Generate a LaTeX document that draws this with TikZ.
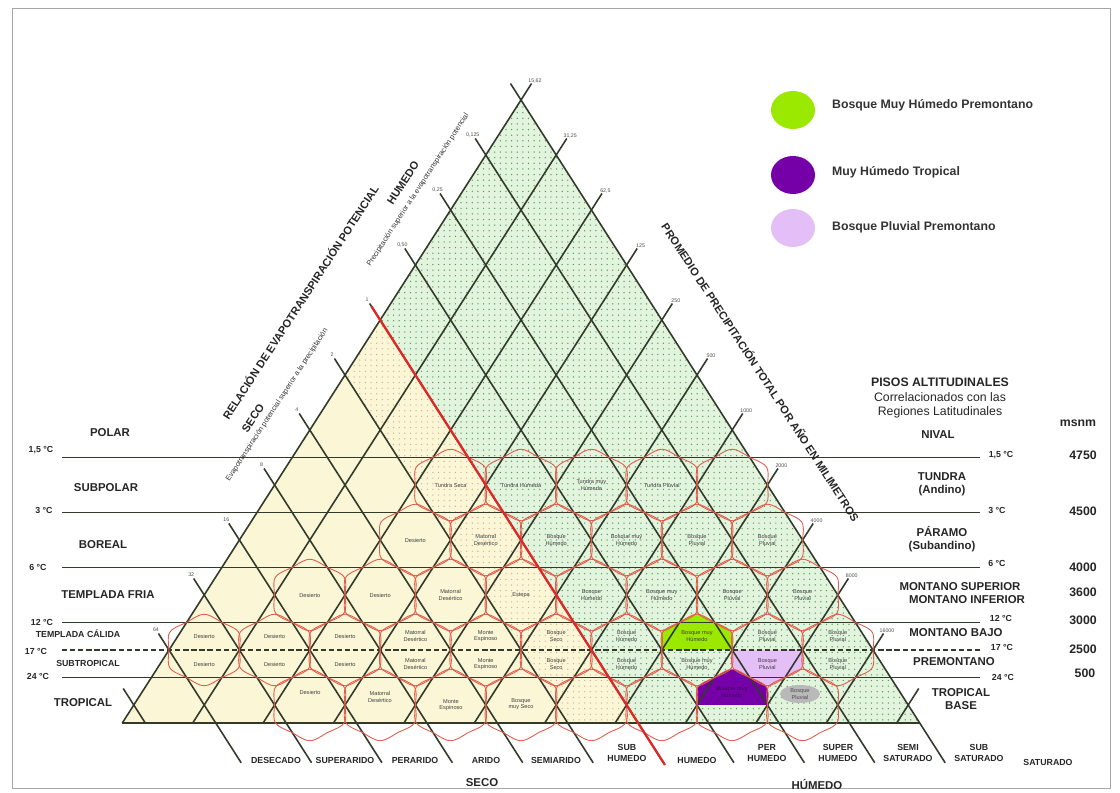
\documentclass[tikz,border=0pt]{standalone}
\usepackage{fontspec}
\setmainfont{Liberation Sans}
\usetikzlibrary{patterns.meta,shapes.geometric}

\definecolor{gridcol}{RGB}{50,58,42}
\definecolor{hexred}{RGB}{226,92,76}
\definecolor{linered}{RGB}{222,40,40}
\definecolor{creamcol}{RGB}{250,246,214}
\definecolor{greencol}{RGB}{226,243,222}
\definecolor{dotgreen}{RGB}{88,158,88}
\definecolor{dottan}{RGB}{220,165,140}
\definecolor{limecol}{RGB}{155,232,0}
\definecolor{purplecol}{RGB}{118,0,168}
\definecolor{lilaccol}{RGB}{228,190,246}

\tikzstyle{gridline} = [draw=gridcol, line width=0.9pt]
\tikzstyle{hexline} = [draw=hexred, line width=0.5pt]
\tikzstyle{zonelbl} = [font=\fontsize{3.2}{3.7}\selectfont, text=black!75, align=center, inner sep=0pt]
\tikzstyle{regionlbl} = [font=\fontsize{6.5}{7.5}\selectfont\bfseries, text=black!85, align=center]
\tikzstyle{smallregion} = [font=\fontsize{5}{6}\selectfont\bfseries, text=black!85]
\tikzstyle{templbl} = [font=\fontsize{5}{6}\selectfont\bfseries, text=black!85]
\tikzstyle{altlbl} = [font=\fontsize{7}{8}\selectfont\bfseries, text=black!85]
\tikzstyle{ticklbl} = [font=\fontsize{3}{3.5}\selectfont, text=black!70, inner sep=0pt]
\tikzstyle{humlbl} = [font=\fontsize{5}{5.8}\selectfont\bfseries, text=black!85, align=center, inner sep=0pt]
\tikzstyle{sidetitle} = [font=\fontsize{6.3}{7}\selectfont\bfseries, text=black!85, inner sep=0pt]
\tikzstyle{sidesmall} = [font=\fontsize{4.2}{5}\selectfont, text=black!80, inner sep=0pt]
\tikzstyle{legendtxt} = [font=\fontsize{7}{8}\selectfont\bfseries, text=black!80, anchor=west]
\tikzstyle{legenddot} = [ellipse, minimum width=0.88cm, minimum height=0.76cm, inner sep=0pt]

% one life zone: hexagon with its sides bulging into the transition triangles
\newcommand{\redhex}[2]{%
  \pgfmathsetmacro{\hcx}{521+35.2*(#2)}%
  \pgfmathsetmacro{\hcy}{100+55*(#1)}%
  \draw[hexline] (\hcx+35.2,\hcy)
    .. controls (\hcx+37,\hcy+19.3) .. (\hcx+17.6,\hcy+27.5)
    .. controls (\hcx,\hcy+38.5) .. (\hcx-17.6,\hcy+27.5)
    .. controls (\hcx-37,\hcy+19.3) .. (\hcx-35.2,\hcy)
    .. controls (\hcx-37,\hcy-19.3) .. (\hcx-17.6,\hcy-27.5)
    .. controls (\hcx,\hcy-38.5) .. (\hcx+17.6,\hcy-27.5)
    .. controls (\hcx+37,\hcy-19.3) .. (\hcx+35.2,\hcy);
}
\newcommand{\hexupper}[3]{%
  \pgfmathsetmacro{\hcx}{521+35.2*(#2)}%
  \pgfmathsetmacro{\hcy}{100+55*(#1)}%
  \fill[#3] (\hcx-35.2,\hcy)
    .. controls (\hcx-37,\hcy-19.3) .. (\hcx-17.6,\hcy-27.5)
    .. controls (\hcx,\hcy-38.5) .. (\hcx+17.6,\hcy-27.5)
    .. controls (\hcx+37,\hcy-19.3) .. (\hcx+35.2,\hcy) -- cycle;
}
\newcommand{\hexlower}[3]{%
  \pgfmathsetmacro{\hcx}{521+35.2*(#2)}%
  \pgfmathsetmacro{\hcy}{100+55*(#1)}%
  \fill[#3] (\hcx-35.2,\hcy)
    .. controls (\hcx-37,\hcy+19.3) .. (\hcx-17.6,\hcy+27.5)
    .. controls (\hcx,\hcy+38.5) .. (\hcx+17.6,\hcy+27.5)
    .. controls (\hcx+37,\hcy+19.3) .. (\hcx+35.2,\hcy) -- cycle;
}

\begin{document}
\begin{tikzpicture}[x=0.02cm, y=-0.02cm]
  \useasboundingbox (0,0) rectangle (1120,793);
  \draw[gray!70, line width=0.5pt] (12,8) rectangle (1110,788);

  % Defining corners
  \coordinate (apex) at (521,100);
  \coordinate (bl) at (122.3,723);
  \coordinate (br) at (919.7,723);
  \coordinate (petone) at (380.2,320);
  \coordinate (pettwo) at (345,375);
  \coordinate (petonebase) at (638.1,723);
  \coordinate (pettwobase) at (567.7,723);
  \coordinate (redtop) at (371.4,306.3);
  \coordinate (redend) at (665,765);

  % Filling provinces
  \fill[creamcol] (apex) -- (bl) -- (br) -- cycle;
  \fill[pattern={Dots[radius=0.38pt,distance=3.2pt]}, pattern color=dottan] (pettwo) -- (petone) -- (petonebase) -- (pettwobase) -- cycle;
  \fill[greencol] (petone) -- (apex) -- (br) -- (petonebase) -- cycle;
  \fill[pattern={Dots[radius=0.42pt,distance=3.2pt]}, pattern color=dotgreen] (petone) -- (apex) -- (br) -- (petonebase) -- cycle;

  % Highlighted zones
  \hexupper{10}{5}{limecol}
  \hexlower{10}{7}{lilaccol}
  \hexupper{11}{6}{purplecol}

  % Drawing grid
  \foreach \j in {0,...,11} {
    \draw[gridline] ({521+35.2*(\j+0.3)},{100+55*(\j-0.3)}) -- ({521+35.2*(2*\j-11.327)},723);
  }
  \foreach \k in {0,...,10} {
    \draw[gridline] ({521-35.2*(\k+0.3)},{100+55*(\k-0.3)}) -- ({521+35.2*(12.05-2*\k)},{100+55*12.05});
  }
  \draw[gridline] ({521-35.2*11.3},{100+55*10.7}) -- ({521+35.2*(11.327-22)},723);
  \draw[gridline] (bl) -- (br);
  \foreach \r in {6.5,7.5,8.5,9.5,10.5} {
    \draw[gridline] (62,{100+55*\r}) -- (980,{100+55*\r});
  }
  \draw[gridline, dash pattern=on 3pt off 1.6pt] (62,650) -- (980,650);

  % Drawing life zones
  \foreach \m in {-2,0,...,6} {\redhex{7}{\m}}
  \foreach \m in {-3,-1,...,7} {\redhex{8}{\m}}
  \foreach \m in {-6,-4,...,8} {\redhex{9}{\m}}
  \foreach \m in {-9,-7,...,9} {\redhex{10}{\m}}
  \foreach \m in {-6,-4,...,8} {\redhex{11}{\m}}
  \draw[linered, line width=1.3pt] (redtop) -- (redend);

  % Zone names
  \foreach \m/\t [count=\i] in {-2/{Tundra Seca}, 0/{Tundra Húmeda}, 2/{Tundra muy\\Húmeda}, 4/{Tundra Pluvial}} {
    \node[zonelbl] (zsub\i) at ({521+35.2*\m},485) {\t};
  }
  \foreach \m/\t [count=\i] in {-3/Desierto, -1/{Matorral\\Desértico}, 1/{Bosque\\Húmedo}, 3/{Bosque muy\\Húmedo}, 5/{Bosque\\Pluvial}, 7/{Bosque\\Pluvial}} {
    \node[zonelbl] (zbor\i) at ({521+35.2*\m},540) {\t};
  }
  \foreach \m/\t [count=\i] in {-6/Desierto, -4/Desierto, -2/{Matorral\\Desértico}, 0/Estepa, 2/{Bosque\\Húmedo}, 4/{Bosque muy\\Húmedo}, 6/{Bosque\\Pluvial}, 8/{Bosque\\Pluvial}} {
    \node[zonelbl] (zfria\i) at ({521+35.2*\m},595) {\t};
  }
  \foreach \m/\ta/\tb [count=\i] in {-9/Desierto/Desierto, -7/Desierto/Desierto, -5/Desierto/Desierto, -3/{Matorral\\Desértico}/{Matorral\\Desértico}, -1/{Monte\\Espinoso}/{Monte\\Espinoso}, 1/{Bosque\\Seco}/{Bosque\\Seco}, 3/{Bosque\\Húmedo}/{Bosque\\Húmedo}, 5/{Bosque muy\\Húmedo}/{Bosque muy\\Húmedo}, 7/{Bosque\\Pluvial}/{Bosque\\Pluvial}, 9/{Bosque\\Pluvial}/{Bosque\\Pluvial}} {
    \node[zonelbl] (zcal\i) at ({521+35.2*\m},636) {\ta};
    \node[zonelbl] (zstr\i) at ({521+35.2*\m},664) {\tb};
  }
  \node[zonelbl] (ztrop1) at (310,692) {Desierto};
  \node[zonelbl] (ztrop2) at (380,697) {Matorral\\Desértico};
  \node[zonelbl] (ztrop3) at (451,705) {Monte\\Espinoso};
  \node[zonelbl] (ztrop4) at (521,704) {Bosque\\muy Seco};
  \node[zonelbl, text=purplecol!55!black] (ztrop5) at (732,692) {Bosque muy\\Húmedo};
  \node[ellipse, fill=gray!55, minimum width=0.8cm, minimum height=0.36cm, zonelbl, text=black!70] (ztrop6) at (800,694) {Bosque\\Pluvial};

  % Scale values
  \foreach \k/\v in {1/{0,125}, 2/{0,25}, 3/{0,50}, 4/1, 5/2, 6/4, 7/8, 8/16, 9/32, 10/64} {
    \node[ticklbl] (pet\k) at ({521-35.2*\k-13},{100+55*\k-20}) {\v};
  }
  \foreach \k/\v in {0/{15,62}, 1/{31,25}, 2/{62,5}, 3/125, 4/250, 5/500, 6/1000, 7/2000, 8/4000, 9/8000, 10/16000} {
    \node[ticklbl] (pp\k) at ({521+35.2*\k+14},{100+55*\k-19}) {\v};
  }

  % Side titles
  \node[sidetitle, rotate=57] (pettitle) at (300,302) {RELACIÓN DE EVAPOTRANSPIRACIÓN POTENCIAL};
  \node[sidetitle, rotate=57] (secoside) at (253,418) {SECO};
  \node[sidesmall, rotate=57] (secotxt) at (277,405) {Evapotranspiración potencial superior a la precipitación};
  \node[sidetitle, rotate=57] (humside) at (403,183) {HUMEDO};
  \node[sidesmall, rotate=57] (humtxt) at (418,190) {Precipitación superior a la evapotranspiración potencial};
  \node[sidetitle, rotate=-57] (pptitle) at (761,372) {PROMEDIO DE PRECIPITACIÓN TOTAL POR AÑO EN MILIMETROS};

  % Latitudinal regions
  \node[regionlbl] (regpolar) at (110,433) {POLAR};
  \node[templbl] (tpolar) at (41,450) {1,5 °C};
  \node[regionlbl] (regsubpolar) at (106,488) {SUBPOLAR};
  \node[templbl] (tsubpolar) at (44,510) {3 °C};
  \node[regionlbl] (regboreal) at (103,545) {BOREAL};
  \node[templbl] (tboreal) at (38,567) {6 °C};
  \node[regionlbl] (regfria) at (108,595) {TEMPLADA FRIA};
  \node[templbl] (tfria) at (42,622) {12 °C};
  \node[smallregion] (regcalida) at (78,634) {TEMPLADA CÁLIDA};
  \node[templbl] (tcalida) at (36,651) {17 °C};
  \node[smallregion] (regsubtrop) at (88,663) {SUBTROPICAL};
  \node[templbl] (tsubtrop) at (38,676) {24 °C};
  \node[regionlbl] (regtrop) at (83,703) {TROPICAL};

  % Altitudinal belts
  \node[altlbl] (pisos) at (940,382) {PISOS ALTITUDINALES};
  \node[font=\fontsize{7}{8}\selectfont, text=black!85] (pisostwo) at (940,397) {Correlacionados con las};
  \node[font=\fontsize{7}{8}\selectfont, text=black!85] (pisosthree) at (940,412) {Regiones Latitudinales};
  \node[altlbl] (msnm) at (1078,423) {msnm};
  \node[regionlbl] (nival) at (938,435) {NIVAL};
  \node[templbl] (rtone) at (1001,455) {1,5 °C};
  \node[altlbl] (hone) at (1083,455) {4750};
  \node[regionlbl] (tundra) at (942,484) {TUNDRA\\(Andino)};
  \node[templbl] (rttwo) at (997,510) {3 °C};
  \node[altlbl] (htwo) at (1083,511) {4500};
  \node[regionlbl] (paramo) at (942,539) {PÁRAMO\\(Subandino)};
  \node[templbl] (rtthree) at (997,563) {6 °C};
  \node[altlbl] (hthree) at (1083,567) {4000};
  \node[regionlbl] (montsup) at (960,587) {MONTANO SUPERIOR};
  \node[altlbl] (hfour) at (1083,592) {3600};
  \node[regionlbl] (montinf) at (967,600) {MONTANO INFERIOR};
  \node[templbl] (rtfour) at (1001,618) {12 °C};
  \node[altlbl] (hfive) at (1083,620) {3000};
  \node[regionlbl] (montbajo) at (956,633) {MONTANO BAJO};
  \node[templbl] (rtfive) at (1002,647) {17 °C};
  \node[altlbl] (hsix) at (1083,649) {2500};
  \node[regionlbl] (premont) at (954,662) {PREMONTANO};
  \node[templbl] (rtsix) at (1003,677) {24 °C};
  \node[altlbl] (hseven) at (1085,673) {500};
  \node[regionlbl] (tropbase) at (961,699) {TROPICAL\\BASE};

  % Humidity provinces
  \node[humlbl] (hdesecado) at (276,760) {DESECADO};
  \node[humlbl] (hsuperarido) at (345,760) {SUPERARIDO};
  \node[humlbl] (hperarido) at (415,760) {PERARIDO};
  \node[humlbl] (harido) at (486,760) {ARIDO};
  \node[humlbl] (hsemiarido) at (556,760) {SEMIARIDO};
  \node[humlbl] (hsubhum) at (627,753) {SUB\\HUMEDO};
  \node[humlbl] (hhum) at (697,760) {HUMEDO};
  \node[humlbl] (hperhum) at (767,753) {PER\\HUMEDO};
  \node[humlbl] (hsuperhum) at (838,753) {SUPER\\HUMEDO};
  \node[humlbl] (hsemisat) at (908,753) {SEMI\\SATURADO};
  \node[humlbl] (hsubsat) at (979,753) {SUB\\SATURADO};
  \node[humlbl] (hsat) at (1048,762) {SATURADO};
  \node[regionlbl] (bseco) at (482,783) {SECO};
  \node[regionlbl] (bhumedo) at (817,784) {HÚMEDO};

  % Legend
  \node[legenddot, fill=limecol] (legone) at (793,110) {};
  \node[legendtxt] (legonetxt) at (826,105) {Bosque Muy Húmedo Premontano};
  \node[legenddot, fill=purplecol] (legtwo) at (793,175) {};
  \node[legendtxt] (legtwotxt) at (826,172) {Muy Húmedo Tropical};
  \node[legenddot, fill=lilaccol] (legthree) at (793,228) {};
  \node[legendtxt] (legthreetxt) at (826,227) {Bosque Pluvial Premontano};
\end{tikzpicture}
\end{document}
